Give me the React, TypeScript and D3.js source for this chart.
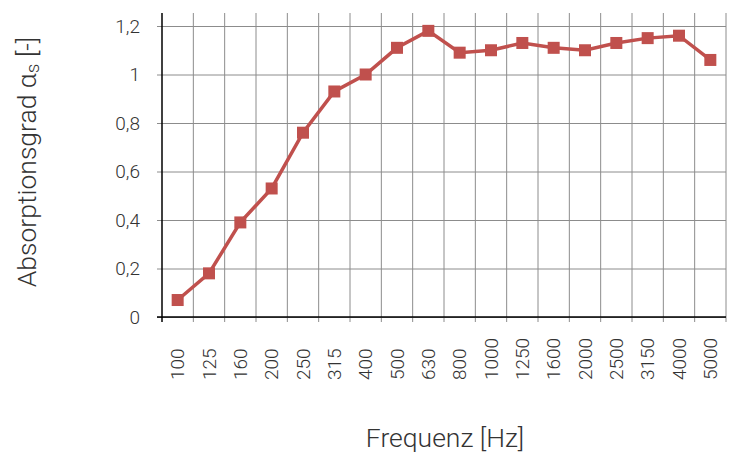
import { useEffect, useRef } from "react";
import * as d3 from "d3";

const FREQUENCIES = [
  "100", "125", "160", "200", "250", "315", "400", "500", "630",
  "800", "1000", "1250", "1600", "2000", "2500", "3150", "4000", "5000",
];
const ALPHA_S = [
  0.07, 0.18, 0.39, 0.53, 0.76, 0.93, 1.0, 1.11, 1.18,
  1.09, 1.1, 1.13, 1.11, 1.1, 1.13, 1.15, 1.16, 1.06,
];
const Y_TICKS = [0, 0.2, 0.4, 0.6, 0.8, 1, 1.2];

const W = 731;
const H = 453;
const m = { top: 13, right: 5, bottom: 136, left: 162 };
const FONT = "Roboto, 'Noto Sans', sans-serif";
const TEXT = "#333333";
const RED = "#c0504d";

export default function App() {
  const ref = useRef<SVGSVGElement | null>(null);

  useEffect(() => {
    const svg = d3.select(ref.current);
    svg.selectAll("*").remove();

    const x = d3.scaleBand<string>().domain(FREQUENCIES).range([m.left, W - m.right]);
    const y = d3.scaleLinear().domain([0, 1.2]).range([H - m.bottom, 26]);
    const top = m.top;
    const bottom = H - m.bottom;

    const g = svg.append("g");

    // vertical grid at band edges
    const edges = FREQUENCIES.map((f) => x(f)! + x.bandwidth());
    g.append("g")
      .selectAll("line")
      .data(edges)
      .join("line")
      .attr("x1", (d) => d)
      .attr("x2", (d) => d)
      .attr("y1", top)
      .attr("y2", bottom + 5)
      .attr("stroke", "#8c8c8c")
      .attr("stroke-width", 1);

    // horizontal grid + y axis
    g.append("g")
      .attr("transform", `translate(${m.left},0)`)
      .call(
        d3
          .axisLeft(y)
          .tickValues(Y_TICKS)
          .tickSize(-(W - m.right - m.left))
          .tickPadding(22)
          .tickFormat((d) => d3.format("~g")(d as number).replace(".", ",")) as never
      )
      .call((s) => s.select(".domain").remove())
      .call((s) => s.selectAll("line").attr("stroke", "#8c8c8c").attr("x1", -5))
      .call((s) =>
        s
          .selectAll("text")
          .attr("fill", TEXT)
          .attr("font-family", FONT)
          .attr("font-weight", 300)
          .attr("font-size", 19)
      );

    // axis lines
    g.append("line")
      .attr("x1", m.left).attr("x2", m.left)
      .attr("y1", top).attr("y2", bottom + 5)
      .attr("stroke", "#000").attr("stroke-width", 1.5);
    g.append("line")
      .attr("x1", m.left - 5).attr("x2", W - m.right)
      .attr("y1", bottom).attr("y2", bottom)
      .attr("stroke", "#000").attr("stroke-width", 1.5);

    // x tick labels
    g.append("g")
      .selectAll("text")
      .data(FREQUENCIES)
      .join("text")
      .attr("transform", (d) => `translate(${x(d)! + x.bandwidth() / 2},380) rotate(-90)`)
      .attr("dy", "0.35em")
      .attr("fill", TEXT)
      .attr("font-family", FONT)
      .attr("font-weight", 300)
      .attr("font-size", 19)
      .text((d) => d);

    // line + markers
    const cx = (i: number) => x(FREQUENCIES[i])! + x.bandwidth() / 2;
    const line = d3
      .line<number>()
      .x((_, i) => cx(i))
      .y((d) => y(d));
    g.append("path")
      .attr("d", line(ALPHA_S)!)
      .attr("fill", "none")
      .attr("stroke", RED)
      .attr("stroke-width", 3.5);
    g.append("g")
      .selectAll("rect")
      .data(ALPHA_S)
      .join("rect")
      .attr("x", (_, i) => cx(i) - 6)
      .attr("y", (d) => y(d) - 6)
      .attr("width", 12)
      .attr("height", 12)
      .attr("fill", RED);

    // axis titles
    const yt = svg
      .append("text")
      .attr("transform", `translate(36,162) rotate(-90)`)
      .attr("text-anchor", "middle")
      .attr("fill", TEXT)
      .attr("font-family", FONT)
      .attr("font-weight", 300)
      .attr("font-size", 26.5);
    yt.append("tspan").text("Absorptionsgrad α");
    yt.append("tspan").attr("font-size", 19).attr("dy", 3).text("s");
    yt.append("tspan").attr("dy", -3).text(" [-]");

    svg
      .append("text")
      .attr("x", 445)
      .attr("y", 447)
      .attr("text-anchor", "middle")
      .attr("fill", TEXT)
      .attr("font-family", FONT)
      .attr("font-weight", 300)
      .attr("font-size", 26.5)
      .text("Frequenz [Hz]");
  }, []);

  return (
    <div style={{ position: "absolute", left: 0, top: 0 }}>
      <svg ref={ref} width={W} height={H} style={{ display: "block", background: "#fff" }} />
    </div>
  );
}
